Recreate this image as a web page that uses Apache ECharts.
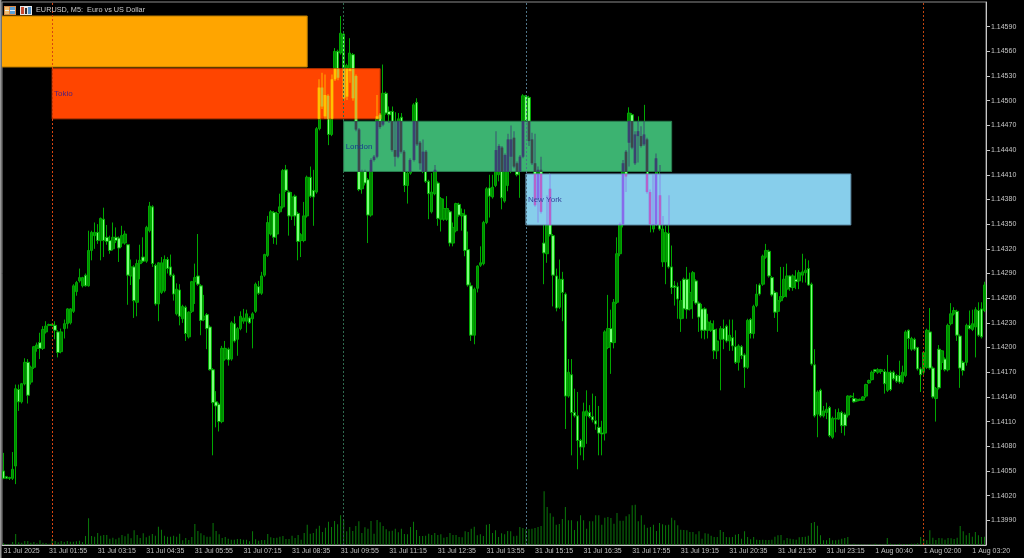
<!DOCTYPE html>
<html>
<head>
<meta charset="utf-8">
<style>html,body{margin:0;padding:0;background:#000;}#chart{width:1024px;height:558px;}</style>
<script src="https://cdn.jsdelivr.net/npm/echarts@6/dist/echarts.min.js"></script>
</head>
<body>
<div id="chart"></div>
<script>
// price values are written in points above 1.00000 (14050 = 1.14050)
var opens = [
14050,14043,14042,14041,14056,14149,14134,14156,14182,14158,14176,14199,
14206,14199,14219,14227,14228,14227,14219,14195,14223,14229,14230,14244,
14268,14281,14275,14288,14275,14318,14336,14340,14330,14356,14334,14330,
14320,14334,14333,14327,14327,14325,14287,14298,14255,14302,14310,14305,
14342,14371,14300,14253,14267,14269,14307,14298,14288,14241,14270,14235,
14249,14213,14244,14280,14287,14275,14234,14240,14225,14173,14134,14131,
14110,14186,14198,14186,14229,14210,14223,14232,14232,14236,14235,14244,
14274,14266,14288,14312,14338,14364,14338,14365,14371,14416,14389,14360,
14384,14363,14330,14330,14360,14407,14391,14389,14466,14516,14481,14506,
14459,14526,14560,14558,14581,14505,14536,14556,14530,14465,14393,14414,
14404,14361,14428,14432,14483,14471,14509,14487,14487,14440,14432,14480,
14438,14397,14412,14428,14498,14449,14414,14438,14402,14365,14387,14400,
14356,14356,14356,14365,14327,14342,14374,14360,14361,14319,14275,14215,
14272,14300,14302,14352,14394,14383,14397,14410,14443,14378,14397,14432,
14455,14424,14414,14432,14505,14504,14453,14424,14381,14416,14327,14314,
14393,14336,14287,14249,14283,14265,14141,14167,14121,14117,14087,14079,
14117,14121,14116,14111,14103,14096,14096,14200,14223,14206,14255,14314,
14350,14438,14449,14483,14424,14457,14457,14447,14453,14389,14344,14350,
14385,14304,14304,14339,14298,14275,14274,14235,14283,14283,14247,14257,
14281,14254,14247,14247,14221,14221,14222,14196,14210,14223,14226,14208,
14212,14201,14182,14201,14191,14176,14234,14217,14251,14276,14277,14310,
14317,14285,14267,14244,14257,14262,14271,14287,14273,14283,14281,14288,
14291,14296,14277,14179,14119,14148,14117,14121,14127,14091,14113,14113,
14121,14119,14118,14140,14138,14135,14136,14136,14141,14157,14161,14173,
14170,14171,14171,14148,14170,14170,14166,14166,14158,14166,14221,14198,
14210,14200,14174,14170,14176,14219,14175,14138,14198,14182,14186,14173,
14229,14241,14244,14214,14182,14182,14227,14222,14225,14245,14247,14245
];
var closes = [
14041,14041,14041,14052,14150,14134,14156,14182,14142,14176,14201,14203,
14199,14222,14226,14228,14227,14221,14194,14219,14229,14247,14247,14275,
14279,14285,14285,14275,14318,14340,14340,14330,14357,14330,14329,14318,
14334,14330,14321,14336,14338,14288,14298,14257,14302,14306,14305,14346,
14372,14302,14253,14303,14303,14307,14296,14288,14265,14271,14238,14250,
14217,14243,14280,14285,14277,14233,14238,14223,14173,14133,14129,14110,
14199,14199,14185,14230,14208,14223,14238,14236,14241,14230,14241,14277,
14266,14287,14313,14352,14365,14334,14363,14371,14415,14391,14360,14383,
14360,14329,14337,14360,14407,14384,14383,14466,14516,14493,14507,14459,
14526,14560,14528,14582,14503,14543,14558,14503,14465,14392,14414,14400,
14361,14428,14432,14481,14468,14509,14485,14483,14440,14432,14478,14438,
14397,14412,14428,14495,14447,14424,14438,14402,14387,14389,14416,14357,
14381,14369,14369,14327,14346,14375,14361,14363,14318,14276,14215,14271,
14299,14303,14352,14393,14384,14395,14440,14445,14382,14434,14453,14453,
14420,14410,14432,14506,14476,14451,14424,14373,14416,14365,14315,14349,
14337,14288,14248,14283,14267,14141,14170,14121,14117,14087,14079,14122,
14123,14116,14112,14107,14096,14095,14219,14223,14206,14255,14314,14350,
14424,14408,14485,14443,14459,14463,14445,14459,14389,14350,14350,14430,
14344,14344,14340,14298,14273,14273,14259,14257,14247,14246,14267,14291,
14254,14237,14221,14221,14231,14229,14196,14208,14223,14210,14208,14215,
14202,14182,14202,14190,14176,14233,14217,14250,14265,14265,14311,14318,
14287,14264,14243,14257,14262,14283,14287,14273,14287,14280,14291,14292,
14294,14276,14180,14117,14146,14117,14123,14125,14093,14114,14114,14121,
14105,14105,14141,14141,14134,14137,14137,14140,14155,14160,14170,14171,
14173,14173,14156,14170,14149,14162,14159,14158,14170,14219,14211,14211,
14198,14174,14167,14194,14221,14175,14140,14150,14151,14196,14173,14227,
14241,14245,14215,14175,14172,14227,14223,14229,14246,14215,14213,14276
];
var lows = [
14040,14040,14039,14039,14034,14123,14132,14154,14132,14155,14174,14195,
14186,14197,14217,14226,14226,14210,14188,14193,14211,14223,14228,14242,
14263,14279,14273,14274,14274,14306,14320,14326,14306,14310,14325,14314,
14318,14327,14304,14322,14325,14252,14276,14236,14238,14283,14303,14303,
14340,14298,14251,14232,14265,14267,14290,14286,14257,14239,14227,14230,
14208,14211,14242,14253,14275,14215,14232,14198,14172,14069,14103,14098,
14108,14184,14178,14184,14206,14190,14221,14229,14218,14229,14199,14242,
14264,14264,14286,14310,14336,14326,14325,14363,14369,14389,14336,14355,
14348,14306,14310,14328,14358,14382,14348,14387,14464,14490,14478,14446,
14457,14524,14525,14556,14500,14501,14522,14500,14463,14390,14387,14397,
14327,14359,14426,14430,14466,14469,14483,14473,14438,14420,14430,14436,
14389,14375,14410,14426,14445,14416,14412,14400,14356,14363,14385,14348,
14341,14354,14354,14323,14323,14340,14359,14342,14311,14274,14208,14204,
14267,14298,14300,14350,14358,14381,14395,14402,14368,14376,14390,14412,
14418,14408,14382,14430,14474,14445,14422,14371,14352,14363,14277,14303,
14335,14250,14244,14247,14232,14101,14139,14069,14115,14052,14069,14063,
14083,14114,14109,14100,14069,14069,14087,14198,14168,14199,14253,14311,
14346,14389,14420,14441,14422,14425,14443,14445,14387,14340,14340,14348,
14342,14298,14277,14296,14265,14251,14235,14219,14235,14235,14245,14235,
14252,14219,14211,14210,14211,14219,14186,14186,14148,14198,14206,14196,
14196,14180,14172,14186,14151,14174,14211,14211,14249,14263,14275,14308,
14285,14262,14236,14219,14255,14260,14261,14269,14269,14271,14271,14279,
14279,14275,14178,14115,14091,14115,14115,14113,14091,14089,14097,14112,
14096,14093,14115,14139,14133,14134,14135,14135,14139,14156,14160,14169,
14168,14168,14144,14146,14147,14160,14157,14156,14156,14164,14198,14196,
14196,14172,14146,14167,14174,14173,14138,14110,14149,14173,14171,14171,
14227,14239,14208,14151,14166,14178,14222,14220,14188,14213,14211,14243
];
var highs = [
14072,14044,14043,14073,14155,14155,14157,14187,14186,14178,14202,14206,
14218,14226,14232,14229,14229,14232,14221,14223,14234,14248,14248,14277,
14281,14296,14286,14290,14342,14342,14352,14350,14358,14370,14349,14336,
14352,14346,14335,14348,14342,14326,14307,14300,14307,14325,14334,14348,
14377,14373,14302,14304,14310,14312,14310,14313,14290,14278,14277,14252,
14251,14244,14281,14302,14338,14277,14264,14242,14227,14175,14147,14133,
14202,14208,14200,14232,14238,14225,14244,14247,14246,14238,14243,14279,
14281,14292,14314,14360,14367,14366,14365,14387,14417,14422,14391,14389,
14386,14365,14339,14377,14409,14420,14416,14468,14526,14534,14532,14508,
14532,14564,14562,14603,14583,14545,14576,14558,14532,14467,14416,14416,
14406,14430,14434,14507,14485,14544,14511,14493,14493,14486,14485,14485,
14440,14414,14430,14497,14503,14451,14453,14440,14404,14412,14422,14402,
14383,14381,14384,14367,14352,14376,14376,14369,14368,14341,14279,14273,
14300,14323,14354,14395,14410,14410,14463,14447,14445,14436,14460,14470,
14463,14426,14434,14508,14507,14506,14461,14460,14420,14432,14349,14385,
14412,14338,14296,14307,14292,14267,14186,14186,14150,14146,14089,14133,
14148,14130,14144,14141,14129,14111,14221,14264,14246,14259,14334,14352,
14428,14440,14492,14485,14463,14481,14469,14495,14455,14392,14410,14436,
14422,14360,14348,14385,14324,14281,14279,14281,14285,14298,14291,14293,
14283,14256,14253,14249,14241,14233,14233,14223,14226,14234,14228,14234,
14234,14221,14204,14203,14193,14235,14236,14252,14277,14278,14313,14326,
14319,14287,14269,14267,14298,14298,14302,14288,14289,14294,14294,14314,
14308,14306,14279,14198,14148,14150,14129,14133,14129,14116,14125,14126,
14123,14121,14142,14142,14145,14138,14138,14141,14156,14161,14172,14174,
14175,14174,14174,14191,14172,14172,14168,14184,14178,14221,14222,14213,
14212,14201,14176,14195,14223,14248,14177,14152,14203,14197,14188,14229,
14254,14249,14246,14216,14184,14229,14245,14246,14249,14255,14255,14280
];
// tick volume, one value per bar
var volumes = [
5,3,3,9,33,8,7,12,12,7,9,5,14,7,6,4,19,12,8,12,9,12,10,10,
11,13,9,27,80,27,25,36,28,30,30,19,22,17,22,30,26,34,20,44,30,21,35,23,
28,33,28,55,46,28,25,25,28,25,34,14,21,15,24,63,42,35,29,25,25,66,42,32,
21,24,19,16,16,18,18,16,16,11,41,17,13,15,15,33,23,21,22,25,27,18,18,28,
21,30,16,36,61,34,36,49,58,39,52,70,54,72,62,
89,74,41,54,42,57,71,36,53,49,72,34,75,68,57,47,41,43,49,38,49,33,32,54,70,
45,27,27,28,34,30,36,30,32,22,24,36,30,30,24,23,41,39,49,55,29,32,27,61,63,
36,44,24,35,32,42,41,26,28,54,51,48,48,49,51,54,57,161,114,95,85,61,63,78,
114,74,74,45,71,89,74,49,71,71,89,89,61,82,84,81,64,96,73,73,86,92,119,121,
71,89,61,52,54,61,42,66,62,59,61,82,74,59,46,
45,44,39,39,32,41,19,35,34,28,24,24,45,39,24,23,24,31,33,19,41,24,17,24,16,
15,16,15,15,16,25,29,30,14,21,19,17,16,23,24,25,28,66,69,58,29,14,14,21,14,14,
16,19,21,24,2,4,2,3,2,1,2,2,4,2,2,2,21,4,3,3,4,3,3,3,4,4,5,24,19,14,44,22,
15,21,20,16,21,20,18,22,57,41,29,36,25,39,29,24,25
];
// one label every 16 bars, in the order they sit on the axis
var tickLabels = ['31 Jul 2025','31 Jul 01:55','31 Jul 03:15','31 Jul 04:35','31 Jul 05:55','31 Jul 07:15','31 Jul 08:35','31 Jul 09:55','31 Jul 11:15','31 Jul 12:35','31 Jul 13:55','31 Jul 15:15','31 Jul 16:35','31 Jul 17:55','31 Jul 19:15','31 Jul 20:35','31 Jul 21:55','31 Jul 23:15','1 Aug 00:40','1 Aug 02:00','1 Aug 03:20'];
var priceTicks = [1.13990,1.14020,1.14050,1.14080,1.14110,1.14140,1.14170,1.14200,1.14230,1.14260,1.14290,1.14320,1.14350,1.14380,1.14410,1.14440,1.14470,1.14500,1.14530,1.14560,1.14590];
// sessions
var zoneNames = ['','Tokio','London','New York'];
var zoneStart = [-1,16,112,172];
var zoneEnd = [100,124,220,279];
var zoneHigh = [1.14603,1.14539,1.14475,1.14411];
var zoneLow = [1.14541,1.14478,1.14414,1.14349];
var zoneColors = ['#ffa500','#ff4500','#3cb371','#87ceeb'];
var zoneEdges = ['#b87a00','#b83400','#2a7f50','#5f8ea8'];
var zoneTextColors = ['#000','#4a1f80','#1a3a8c','#37479f'];
var sessionBars = [16,112,172,303];
var sessionColors = ['#d84410','#2f6a4e','#4f7488','#c0440f'];

var BULL_FILL = '#008a00', BEAR_FILL = '#7cff7c', EDGE = '#00a800';

function toPrice(v) { return +(1 + v / 100000).toFixed(5); }

var categories = [];
var candles = [];
var overlay = [];
for (var i = 0; i < opens.length; i++) {
	categories.push('');
	candles.push([toPrice(opens[i]), toPrice(closes[i]), toPrice(lows[i]), toPrice(highs[i])]);
	overlay.push([i, toPrice(opens[i]), toPrice(closes[i]), toPrice(lows[i]), toPrice(highs[i])]);
}
var tickBars = [];
for (var t = 0; t < tickLabels.length; t++) {
	var bar = t == 0 ? 0 : t * 16 - 1;
	tickBars.push(bar);
	categories[bar] = tickLabels[t];
}

function isTick(index) { return tickBars.indexOf(index) >= 0; }

// the terminal paints objects with XOR, candles inside a box change colour
function xorColor(a, b) {
	var x = parseInt(a.slice(1), 16) ^ parseInt(b.slice(1), 16);
	return '#' + ('000000' + x.toString(16)).slice(-6);
}

function renderZone(params, api) {
	var n = api.value(0);
	var a = api.coord([zoneStart[n], zoneHigh[n]]);
	var b = api.coord([zoneEnd[n], zoneLow[n]]);
	return {
		type: 'rect',
		shape: { x: a[0], y: a[1], width: b[0] - a[0], height: b[1] - a[1] },
		style: { fill: zoneColors[n], stroke: zoneEdges[n], lineWidth: 1 }
	};
}

function renderOverlay(params, api) {
	var idx = api.value(0), open = api.value(1), close = api.value(2), low = api.value(3), high = api.value(4);
	var isBull = close >= open;
	var children = [];
	var x = api.coord([idx, open])[0];
	for (var z = 0; z < zoneNames.length; z++) {
		if (idx < zoneStart[z] || idx > zoneEnd[z]) continue;
		var wickTop = Math.min(high, zoneHigh[z]), wickBottom = Math.max(low, zoneLow[z]);
		if (wickTop > wickBottom) {
			var y1 = api.coord([idx, wickTop])[1], y2 = api.coord([idx, wickBottom])[1];
			children.push({ type: 'rect', shape: { x: Math.round(x) - 0.5, y: y1, width: 1, height: y2 - y1 }, style: { fill: xorColor(EDGE, zoneColors[z]), opacity: 0.65 } });
		}
		var bodyTop = Math.min(Math.max(open, close), zoneHigh[z]), bodyBottom = Math.max(Math.min(open, close), zoneLow[z]);
		if (bodyTop > bodyBottom) {
			var y3 = api.coord([idx, bodyTop])[1], y4 = api.coord([idx, bodyBottom])[1];
			children.push({ type: 'rect', shape: { x: Math.round(x) - 1.5, y: y3, width: 3, height: y4 - y3 }, style: { fill: xorColor(EDGE, zoneColors[z]), opacity: 0.55 } });
			children.push({ type: 'rect', shape: { x: Math.round(x) - 0.5, y: y3, width: 1, height: y4 - y3 }, style: { fill: xorColor(isBull ? BULL_FILL : BEAR_FILL, zoneColors[z]), opacity: 0.8 } });
		}
	}
	return { type: 'group', children: children };
}

function renderZoneLabel(params, api) {
	var n = api.value(0);
	if (!zoneNames[n]) return null;
	var p = api.coord([zoneStart[n], (zoneHigh[n] + zoneLow[n]) / 2]);
	return {
		type: 'text',
		style: { x: p[0] + 2, y: p[1], text: zoneNames[n], fill: zoneTextColors[n], font: '8px "Liberation Sans"', verticalAlign: 'middle' }
	};
}

var sessionLines = sessionBars.map(function (bar, k) {
	return { xAxis: bar, lineStyle: { color: sessionColors[k], type: [2, 2], width: 1 } };
});

var myChart = echarts.init(document.getElementById('chart'));
var option = {
	animation: false,
	backgroundColor: '#000000',
	title: {
		text: 'EURUSD, M5:  Euro vs US Dollar',
		left: 36,
		top: 6,
		padding: 0,
		textStyle: { color: '#c8c8c8', fontSize: 7.3, fontWeight: 'normal', fontFamily: 'Liberation Sans' }
	},
	grid: { left: 2, right: 38, top: 2, bottom: 13, show: true, backgroundColor: '#000000', borderColor: '#8c8c8c', borderWidth: 1 },
	xAxis: {
		type: 'category',
		data: categories,
		boundaryGap: true,
		axisLine: { lineStyle: { color: '#c8c8c8' } },
		axisTick: { alignWithLabel: true, length: 3, interval: function (index) { return isTick(index); }, lineStyle: { color: '#c8c8c8' } },
		axisLabel: {
			interval: function (index) { return isTick(index); },
			color: '#c0c0c0', fontSize: 7, fontFamily: 'Liberation Sans', align: 'left', margin: 3, hideOverlap: false
		},
		splitLine: { show: false }
	},
	yAxis: [{
		type: 'value',
		position: 'right',
		min: 1.1396,
		max: 1.1462,
		axisLine: { show: true, lineStyle: { color: '#c8c8c8' } },
		axisTick: { show: true, length: 4, customValues: priceTicks, lineStyle: { color: '#c8c8c8' } },
		axisLabel: {
			customValues: priceTicks,
			formatter: function (v) { return v.toFixed(5); },
			color: '#c8c8c8', fontSize: 7, fontFamily: 'Liberation Sans', margin: 5
		},
		splitLine: { show: false }
	}, {
		type: 'value',
		min: 0,
		max: 1629,
		show: false,
		splitLine: { show: false }
	}],
	series: [{
		name: 'Volume',
		type: 'bar',
		yAxisIndex: 1,
		data: volumes,
		barWidth: 1,
		z: 1,
		itemStyle: { color: '#0a7a0a' }
	}, {
		name: 'EURUSD',
		type: 'candlestick',
		data: candles,
		barWidth: 3,
		z: 2,
		itemStyle: { color: BULL_FILL, color0: BEAR_FILL, borderColor: EDGE, borderColor0: EDGE, borderWidth: 1 }
	}, {
		name: 'Sessions',
		type: 'custom',
		data: [[0], [1], [2], [3]],
		renderItem: renderZone,
		encode: { x: 0 },
		z: 3,
		silent: true,
		clip: true
	}, {
		name: 'Overlap',
		type: 'custom',
		data: overlay,
		renderItem: renderOverlay,
		encode: { x: 0, y: [1, 2, 3, 4] },
		z: 4,
		silent: true,
		clip: true
	}, {
		name: 'Session starts',
		type: 'line',
		data: [],
		z: 5,
		silent: true,
		markLine: { silent: true, symbol: 'none', label: { show: false }, animation: false, data: sessionLines }
	}, {
		name: 'Session names',
		type: 'custom',
		data: [[0], [1], [2], [3]],
		renderItem: renderZoneLabel,
		encode: { x: 0 },
		z: 6,
		silent: true
	}],
	graphic: [
		{ type: 'rect', left: 0, top: 0, shape: { width: 1.5, height: 558 }, style: { fill: '#9a9a9a' }, z: 10 },
		{ type: 'rect', left: 4, top: 6, shape: { width: 12, height: 9 }, style: { fill: '#d98a4a' }, z: 10 },
		{ type: 'rect', left: 5, top: 7, shape: { width: 4, height: 7 }, style: { fill: '#f0c070' }, z: 11 },
		{ type: 'rect', left: 10, top: 7, shape: { width: 5, height: 7 }, style: { fill: '#5aa0d8' }, z: 11 },
		{ type: 'rect', left: 10, top: 10, shape: { width: 5, height: 1 }, style: { fill: '#e8f0f8' }, z: 12 },
		{ type: 'rect', left: 5, top: 10, shape: { width: 4, height: 1 }, style: { fill: '#e8f0f8' }, z: 12 },
		{ type: 'rect', left: 20, top: 6, shape: { width: 12, height: 9 }, style: { fill: '#e8e8e8' }, z: 10 },
		{ type: 'rect', left: 21, top: 7, shape: { width: 3, height: 7 }, style: { fill: '#c84a30' }, z: 11 },
		{ type: 'rect', left: 25, top: 8, shape: { width: 2, height: 6 }, style: { fill: '#303030' }, z: 11 },
		{ type: 'rect', left: 28, top: 7, shape: { width: 3, height: 7 }, style: { fill: '#4f90c8' }, z: 11 }
	]
};
myChart.setOption(option);
</script>
</body>
</html>
